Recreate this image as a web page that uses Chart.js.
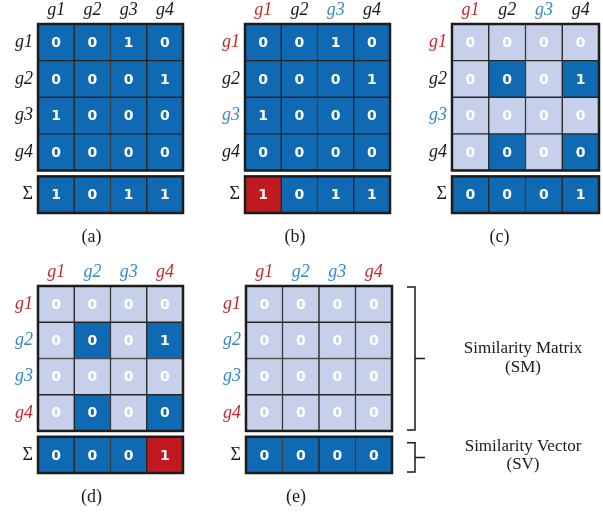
<!DOCTYPE html>
<html>
<head>
<meta charset="utf-8">
<script src="https://cdn.jsdelivr.net/npm/chart.js@4"></script>
<style>
  body { margin: 0; background: #fff; }
  #page { position: relative; width: 603px; height: 512px; overflow: hidden; }
  canvas { position: absolute; }
</style>
</head>
<body>
<div id="page">
  <canvas id="pa" width="188" height="250" style="left:0px;top:0px"></canvas>
  <canvas id="pb" width="195" height="250" style="left:200px;top:0px"></canvas>
  <canvas id="pc" width="203" height="250" style="left:400px;top:0px"></canvas>
  <canvas id="pd" width="188" height="248" style="left:0px;top:262px"></canvas>
  <canvas id="pe" width="403" height="248" style="left:200px;top:262px"></canvas>
</div>
<script>
const cols = ['g1', 'g2', 'g3', 'g4'];
const rowLabels = ['g1', 'g2', 'g3', 'g4', 'Σ'];

// cell values
const matrixAB = [[0, 0, 1, 0], [0, 0, 0, 1], [1, 0, 0, 0], [0, 0, 0, 0]];
const matrixCD = [[0, 0, 0, 0], [0, 0, 0, 1], [0, 0, 0, 0], [0, 0, 0, 0]];
const matrixE = [[0, 0, 0, 0], [0, 0, 0, 0], [0, 0, 0, 0], [0, 0, 0, 0]];
const sumAB = [1, 0, 1, 1];
const sumCD = [0, 0, 0, 1];
const sumE = [0, 0, 0, 0];

// 1 = active (dark) cell, 0 = masked (light) cell
const activeAll = [[1, 1, 1, 1], [1, 1, 1, 1], [1, 1, 1, 1], [1, 1, 1, 1]];
const activeCD = [[0, 0, 0, 0], [0, 1, 0, 1], [0, 0, 0, 0], [0, 1, 0, 1]];
const activeNone = [[0, 0, 0, 0], [0, 0, 0, 0], [0, 0, 0, 0], [0, 0, 0, 0]];

// label colour codes: k black, r red, b blue
const labelsA = ['k', 'k', 'k', 'k'];
const labelsBC = ['r', 'k', 'b', 'k'];
const labelsDE = ['r', 'b', 'b', 'r'];

const DARK = '#0f69b3';
const LIGHT = '#c6d0ea';
const RED = '#c0191f';
const LINE = '#262626';
const txtColor = { k: '#1a1a1a', r: '#c62a2f', b: '#3a87c9' };
const GAP = 0.16;

const cellText = {
    id: 'cellText',
    afterDatasetsDraw(chart) {
        const ctx = chart.ctx;
        const y = chart.scales.y;
        const area = chart.chartArea;
        ctx.save();
        ctx.font = 'bold 14px "DejaVu Sans", sans-serif';
        ctx.fillStyle = '#ffffff';
        ctx.textAlign = 'center';
        ctx.textBaseline = 'middle';
        chart.data.datasets.forEach((ds, d) => {
            if (!ds.values) return;
            chart.getDatasetMeta(d).data.forEach((el, c) => {
                ctx.fillText(String(ds.values[c]), el.x, (el.y + el.base) / 2 + 1);
            });
        });
        // thick outline round matrix and sum row
        ctx.strokeStyle = '#1c1c1c';
        ctx.lineWidth = 2.5;
        const t0 = y.getPixelForValue(0), t1 = y.getPixelForValue(4);
        const s0 = y.getPixelForValue(4 + GAP), s1 = y.getPixelForValue(5 + GAP);
        ctx.strokeRect(area.left, t0, area.right - area.left, t1 - t0);
        ctx.strokeRect(area.left, s0, area.right - area.left, s1 - s0);
        ctx.restore();
    }
};

const brackets = {
    id: 'brackets',
    afterDraw(chart) {
        const opts = chart.options.plugins.brackets;
        if (!opts || !opts.show) return;
        const ctx = chart.ctx;
        const y = chart.scales.y;
        const x0 = chart.chartArea.right + 15;
        const drawBracket = (top, bot) => {
            const mid = (top + bot) / 2;
            ctx.beginPath();
            ctx.moveTo(x0, top);
            ctx.lineTo(x0 + 8, top);
            ctx.lineTo(x0 + 8, bot);
            ctx.lineTo(x0, bot);
            ctx.moveTo(x0 + 8, mid);
            ctx.lineTo(x0 + 18, mid);
            ctx.stroke();
            return mid;
        };
        ctx.save();
        ctx.strokeStyle = '#1a1a1a';
        ctx.lineWidth = 1.5;
        const m1 = drawBracket(y.getPixelForValue(0) + 1, y.getPixelForValue(4) - 1);
        const m2 = drawBracket(y.getPixelForValue(4 + GAP) + 6, y.getPixelForValue(5 + GAP) - 1);
        ctx.fillStyle = '#1a1a1a';
        ctx.font = '17px "Liberation Serif", serif';
        ctx.textAlign = 'center';
        ctx.textBaseline = 'middle';
        const cx = chart.chartArea.right + 131;
        ctx.fillText('Similarity Matrix', cx, m1 - 10);
        ctx.fillText('(SM)', cx, m1 + 9);
        ctx.fillText('Similarity Vector', cx, m2 - 11);
        ctx.fillText('(SV)', cx, m2 + 7);
        ctx.restore();
    }
};

const makePanel = (id, caption, matrix, active, sums, redIdx, labelCodes, leftW, padRight, withBrackets) => {
    const datasets = [];
    for (let r = 0; r < 4; ++r) {
        datasets.push({
            data: [1, 1, 1, 1],
            values: matrix[r],
            backgroundColor: active[r].map(a => a ? DARK : LIGHT)
        });
    }
    datasets.push({
        data: [GAP, GAP, GAP, GAP],
        backgroundColor: 'rgba(0,0,0,0)',
        borderWidth: 0
    });
    datasets.push({
        data: [1, 1, 1, 1],
        values: sums,
        backgroundColor: sums.map((v, c) => c === redIdx ? RED : DARK)
    });

    const serif = '"Liberation Serif", "Times New Roman", serif';
    const rowColors = labelCodes.map(k => txtColor[k]).concat(['#1a1a1a']);

    return new Chart(document.getElementById(id), {
        type: 'bar',
        data: { labels: cols, datasets: datasets },
        options: {
            responsive: false,
            animation: false,
            layout: { padding: { left: 0, right: padRight, top: 0, bottom: 0 } },
            datasets: {
                bar: {
                    barPercentage: 1,
                    categoryPercentage: 1,
                    borderColor: LINE,
                    borderWidth: 1,
                    borderSkipped: false
                }
            },
            plugins: {
                legend: { display: false },
                tooltip: { enabled: false },
                title: {
                    display: true,
                    text: caption,
                    position: 'bottom',
                    color: '#1a1a1a',
                    font: { family: serif, size: 18, weight: 'normal' },
                    padding: { top: 13, bottom: 2.4 }
                },
                brackets: { show: withBrackets }
            },
            scales: {
                x: {
                    position: 'top',
                    stacked: true,
                    grid: { display: false, drawTicks: false },
                    border: { display: false },
                    afterFit: (scale) => { scale.height = 24; },
                    ticks: {
                        padding: 3,
                        color: (ctx) => txtColor[labelCodes[ctx.index]],
                        font: { family: serif, size: 18, style: 'italic' }
                    }
                },
                y: {
                    stacked: true,
                    reverse: true,
                    min: 0,
                    max: 5 + GAP,
                    grid: { display: false, drawTicks: false },
                    border: { display: false },
                    afterBuildTicks: (scale) => {
                        scale.ticks = [0.5, 1.5, 2.5, 3.5, 4.5 + GAP].map(v => ({ value: v }));
                    },
                    afterFit: (scale) => { scale.width = leftW; },
                    ticks: {
                        padding: 5,
                        autoSkip: false,
                        callback: (val, idx) => rowLabels[idx],
                        color: (ctx) => rowColors[ctx.index],
                        font: (ctx) => ({
                            family: serif,
                            size: 18,
                            style: ctx.index < 4 ? 'italic' : 'normal'
                        })
                    }
                }
            }
        },
        plugins: [cellText, brackets]
    });
};

makePanel('pa', '(a)', matrixAB, activeAll, sumAB, -1, labelsA, 38, 5, false);
makePanel('pb', '(b)', matrixAB, activeAll, sumAB, 0, labelsBC, 45, 5, false);
makePanel('pc', '(c)', matrixCD, activeCD, sumCD, -1, labelsBC, 52, 4, false);
makePanel('pd', '(d)', matrixCD, activeCD, sumCD, 3, labelsDE, 38, 5, false);
makePanel('pe', '(e)', matrixE, activeNone, sumE, -1, labelsDE, 46, 211, true);
</script>
</body>
</html>
